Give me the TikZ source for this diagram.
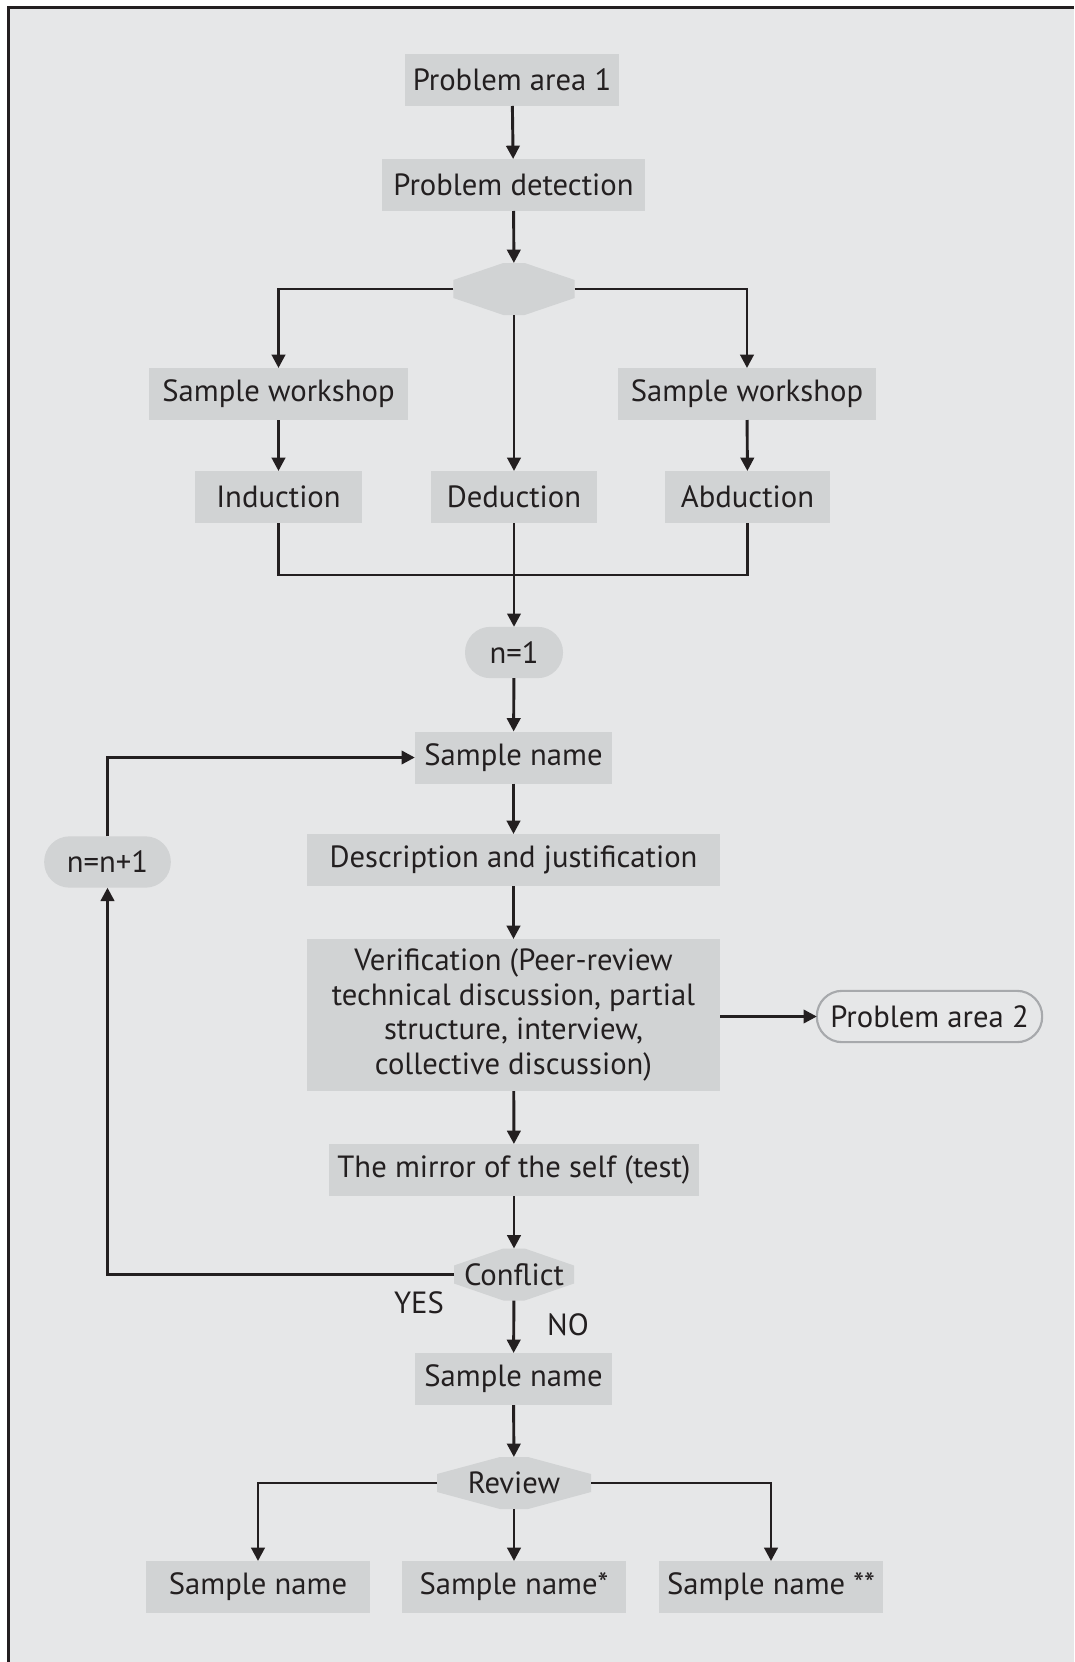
\documentclass[tikz,border=0pt]{standalone}
\usepackage{fontspec}
\setmainfont{PT Sans}
\usetikzlibrary{arrows.meta,positioning,calc}
\definecolor{bgc}{HTML}{E6E7E8}
\definecolor{boxc}{HTML}{D1D3D4}
\definecolor{ink}{HTML}{231F20}
\definecolor{pillline}{HTML}{A7A9AC}
\begin{document}
\begin{tikzpicture}[x=0.75pt,y=-0.75pt,
  every node/.style={font=\fontsize{23}{26}\selectfont, text=ink, inner sep=0pt, outer sep=0pt},
  box/.style={fill=boxc, minimum height=39pt, align=center},
  pill/.style={fill=boxc, minimum height=38.5pt, rounded corners=19pt},
  hexnode/.style={minimum height=39pt, path picture={
      \fill[boxc] ([xshift=-#1]path picture bounding box.north) -- ([xshift=#1]path picture bounding box.north)
        -- ([yshift=6.75pt]path picture bounding box.east) -- ([yshift=-6.75pt]path picture bounding box.east)
        -- ([xshift=#1]path picture bounding box.south) -- ([xshift=-#1]path picture bounding box.south)
        -- ([yshift=-6.75pt]path picture bounding box.west) -- ([yshift=6.75pt]path picture bounding box.west) -- cycle;}},
  conn/.style={draw=ink, line width=2.2pt},
  arr/.style={conn, -{Triangle[length=10pt,width=10pt]}},
  lbl/.style={}
]
\useasboundingbox (0,0) rectangle (1074,1662);
\fill[white] (0,0) rectangle (1074,1662);
\fill[bgc] (8.5,7.5) rectangle (1074,1662);
\draw[ink, line width=2.3pt] (8.5,1662) -- (8.5,7.5) -- (1074,7.5);

\node[box, minimum width=160.5pt] (pa1) at (512,80) {Problem area 1};
\node[box, minimum width=197pt] (pd) at (513.5,185) {Problem detection};
\node[hexnode=8pt, minimum width=91pt] (d1) at (514,289) {};
\node[box, minimum width=194pt] (swl) at (278.5,394) {Sample workshop};
\node[box, minimum width=194pt] (swr) at (747,394) {Sample workshop};
\node[box, minimum width=125pt] (ind) at (278.5,497) {Induction};
\node[box, minimum width=125pt] (ded) at (514,497) {Deduction};
\node[box, minimum width=124pt] (abd) at (747.5,497) {Abduction};
\coordinate (m) at (514,575);
\node[pill, minimum width=73.5pt] (n1) at (514,652.5) {n=1};
\node[box, minimum width=148pt] (sn1) at (513.5,757.5) {Sample name};
\node[box, minimum width=310pt] (desc) at (513.5,860) {Description and justification};
\node[box, minimum width=310pt, minimum height=114pt] (ver) at (513.5,1015)
  {Verification (Peer-review\\technical discussion, partial\\structure, interview,\\collective discussion)};
\node[draw=pillline, line width=1.6pt, fill=bgc, minimum width=169pt, minimum height=38.5pt, rounded corners=19pt] (pa2) at (929.5,1016.5) {Problem area 2};
\node[box, minimum width=277.5pt] (mir) at (514,1170) {The mirror of the self (test)};
\node[hexnode=8pt, minimum width=90pt] (con) at (514,1274.5) {Conflict};
\node[pill, minimum width=95pt] (nn) at (107.5,862) {n=n+1};
\node[lbl] (yes) at (419,1302.5) {YES};
\node[lbl] (no) at (568,1324.5) {NO};
\node[box, minimum width=148pt] (sn2) at (513.5,1379) {Sample name};
\node[hexnode=10.5pt, minimum width=115.5pt] (rev) at (514,1483) {Review};
\node[box, minimum width=168pt] (b1) at (258,1587) {Sample name};
\node[box, minimum width=168pt] (b2) at (514,1587) {Sample name*};
\node[box, minimum width=168pt] (b3) at (771,1587) {Sample name **};

\draw[arr] (pa1) -- (pd);
\draw[arr] (pd) -- (d1);
\draw[arr] (d1.west) -| (swl.north);
\draw[arr] (d1.east) -| (swr.north);
\draw[arr] (d1.south) -- (ded.north);
\draw[arr] (swl) -- (ind);
\draw[arr] (swr) -- (abd);
\draw[conn] (ind.south) |- (m);
\draw[conn] (abd.south) |- (m);
\draw[arr] (ded.south) -- (n1.north);
\draw[arr] (n1) -- (sn1);
\draw[arr] (sn1) -- (desc);
\draw[arr] (desc) -- (ver);
\draw[arr] (ver.east |- pa2.west) -- (pa2.west);
\draw[arr] (ver) -- (mir);
\draw[arr] (mir) -- (con);
\draw[arr] (con.west) -| (nn.south);
\draw[arr] (nn.north) |- (sn1.west);
\draw[arr] (con) -- (sn2);
\draw[arr] (sn2) -- (rev);
\draw[arr] (rev.west) -| (b1.north);
\draw[arr] (rev.east) -| (b3.north);
\draw[arr] (rev.south) -- (b2.north);
\end{tikzpicture}
\end{document}
